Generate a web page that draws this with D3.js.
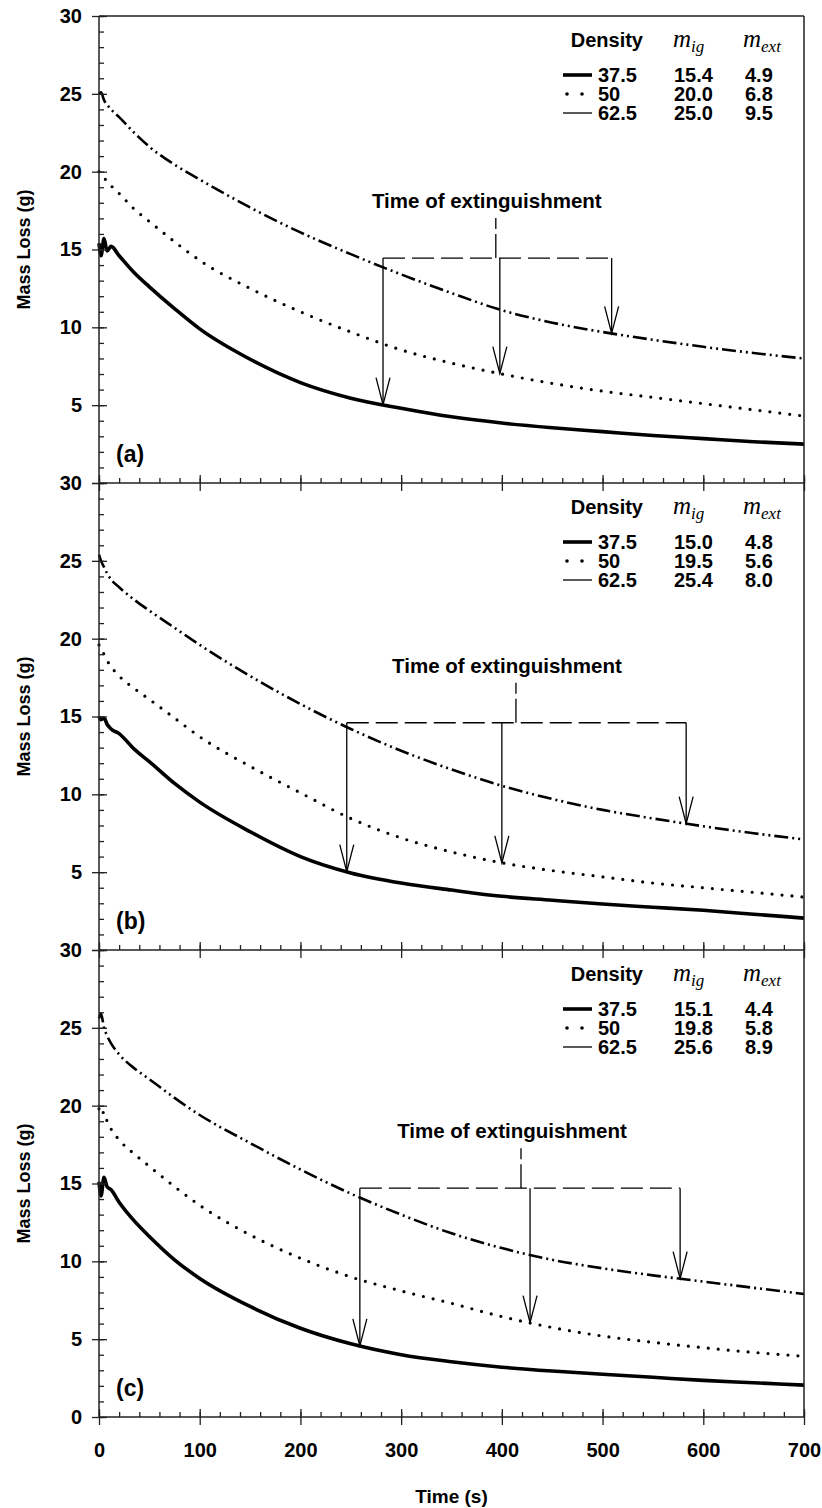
<!DOCTYPE html>
<html>
<head>
<meta charset="utf-8">
<script src="https://cdn.jsdelivr.net/npm/d3@7"></script>
<style>
body { margin: 0; background: #fff; }
text { font-family: "Liberation Sans", Arial, sans-serif; font-weight: bold; fill: #000; }
</style>
</head>
<body>
<div id="chart"></div>
<script>
// messzeitpunkte (s), gilt fuer alle kurven
var times = [0, 2, 5, 8, 12, 20, 35, 50, 75, 100, 150, 200, 250, 300, 350, 400, 450, 500, 550, 600, 650, 700];

// panel (a)
var lossA375 = [15.4, 14.6, 15.7, 14.9, 15.2, 14.6, 13.5, 12.6, 11.2, 9.9, 7.95, 6.45, 5.45, 4.8, 4.25, 3.85, 3.55, 3.3, 3.05, 2.85, 2.65, 2.5];
var lossA50 = [20.0, 19.9, 19.6, 19.4, 19.1, 18.6, 17.6, 16.8, 15.5, 14.3, 12.5, 11.0, 9.7, 8.55, 7.7, 7.0, 6.4, 5.9, 5.5, 5.1, 4.7, 4.3];
var lossA625 = [25.0, 25.1, 24.6, 24.3, 24.0, 23.5, 22.5, 21.6, 20.45, 19.5, 17.7, 16.1, 14.7, 13.4, 12.2, 11.1, 10.3, 9.7, 9.2, 8.75, 8.35, 8.0];
// panel (b)
var lossB375 = [15.0, 14.8, 14.9, 14.5, 14.2, 13.9, 12.9, 12.1, 10.7, 9.5, 7.6, 6.0, 4.95, 4.3, 3.85, 3.45, 3.2, 2.95, 2.75, 2.55, 2.3, 2.05];
var lossB50 = [19.6, 19.3, 19.0, 18.6, 18.2, 17.6, 16.8, 16.1, 14.9, 13.7, 11.8, 10.1, 8.45, 7.2, 6.3, 5.6, 5.1, 4.7, 4.3, 4.0, 3.7, 3.4];
var lossB625 = [25.4, 25.0, 24.6, 24.2, 23.8, 23.3, 22.5, 21.8, 20.7, 19.6, 17.6, 15.8, 14.2, 12.8, 11.6, 10.55, 9.7, 9.0, 8.45, 7.95, 7.5, 7.1];
// panel (c)
var lossC375 = [15.1, 14.2, 15.4, 14.8, 14.6, 13.8, 12.6, 11.6, 10.1, 8.9, 7.1, 5.7, 4.7, 4.0, 3.55, 3.2, 2.95, 2.75, 2.55, 2.35, 2.2, 2.05];
var lossC50 = [19.8, 19.4, 19.6, 19.0, 18.5, 17.8, 16.9, 16.1, 14.8, 13.6, 11.7, 10.2, 9.0, 8.1, 7.3, 6.45, 5.75, 5.2, 4.8, 4.45, 4.15, 3.9];
var lossC625 = [25.6, 25.9, 25.0, 24.5, 24.0, 23.3, 22.4, 21.7, 20.5, 19.4, 17.6, 15.9, 14.35, 13.0, 11.8, 10.85, 10.1, 9.55, 9.1, 8.7, 8.3, 7.9];

var panelLabels = ["(a)", "(b)", "(c)"];
var densities = ["37.5", "50", "62.5"];
var mIg = [["15.4", "20.0", "25.0"], ["15.0", "19.5", "25.4"], ["15.1", "19.8", "25.6"]];
var mExt = [["4.9", "6.8", "9.5"], ["4.8", "5.6", "8.0"], ["4.4", "5.8", "8.9"]];

// zeitpunkt des erloeschens (s) je dichte, hoehe der klammer, position des textes
var extTimes = [[282, 398, 509], [246, 400, 583], [259, 428, 577]];
var bracketLevels = [14.45, 14.6, 14.7];
var stubTimes = [394, 414, 419];

var xTicks = [0, 100, 200, 300, 400, 500, 600, 700];
var yTicks = [0, 5, 10, 15, 20, 25, 30];

var panels = [[lossA375, lossA50, lossA625], [lossB375, lossB50, lossB625], [lossC375, lossC50, lossC625]];

var chartW = 822, chartH = 1508,
    plotLeft = 99, plotRight = 804, plotTop = 16, ph = 467,
    axisColor = "#222";

var svg = d3.select("#chart").append("svg")
    .attr("width", chartW)
    .attr("height", chartH);

var x = d3.scaleLinear().domain([0, 700]).range([plotLeft, plotRight]);

// linienstile: dick, punktiert, strich-punkt-punkt
var styles = [
    { width: 3.6, dash: null, cap: "butt" },
    { width: 3.2, dash: "0,10", cap: "round" },
    { width: 2.6, dash: "14,4,2,4,2,4", cap: "butt" }
];

function valueAt(vals, t) {
    var i = d3.bisectRight(times, t);
    if (i <= 0) return vals[0];
    if (i >= times.length) return vals[vals.length - 1];
    var t0 = times[i - 1], t1 = times[i];
    return vals[i - 1] + (vals[i] - vals[i - 1]) * (t - t0) / (t1 - t0);
}

function drawAxes(g, y, i) {
    var last = i === panels.length - 1;
    var y0 = y.range()[1], yb = y.range()[0];

    // y achse: grosse ticks durch die linie, kleine nach innen
    g.append("g").attr("transform", "translate(" + plotLeft + ",0)")
        .call(d3.axisLeft(y).tickValues(yTicks).tickSize(7).tickPadding(10)
            .tickFormat(function (d) { return (d === 0 && !last) ? "" : d; }))
        .call(function (a) {
            a.select(".domain").remove();
            a.selectAll("text").style("font-size", "20px");
        });
    g.append("g").attr("transform", "translate(" + plotLeft + ",0)")
        .call(d3.axisRight(y).tickValues(yTicks).tickSize(8).tickFormat(""))
        .call(function (a) { a.select(".domain").remove(); });
    g.append("g").attr("transform", "translate(" + plotLeft + ",0)")
        .call(d3.axisRight(y).tickValues(d3.range(0, 31)).tickSize(5).tickFormat(""))
        .call(function (a) { a.select(".domain").remove(); });

    // x achse unten
    g.append("g").attr("transform", "translate(0," + yb + ")")
        .call(d3.axisBottom(x).tickValues(xTicks).tickSize(8).tickPadding(18)
            .tickFormat(last ? d3.format("d") : function () { return ""; }))
        .call(function (a) {
            a.select(".domain").remove();
            a.selectAll("text").style("font-size", "20px");
        });
    g.append("g").attr("transform", "translate(0," + yb + ")")
        .call(d3.axisTop(x).tickValues(xTicks).tickSize(8).tickFormat(""))
        .call(function (a) { a.select(".domain").remove(); });
    g.append("g").attr("transform", "translate(0," + yb + ")")
        .call(d3.axisTop(x).tickValues(d3.range(0, 701, 20)).tickSize(5).tickFormat(""))
        .call(function (a) { a.select(".domain").remove(); });

    g.selectAll(".tick line").attr("stroke", axisColor).attr("stroke-width", 1.3);

    // rahmenlinien
    g.append("line").attr("x1", plotLeft).attr("x2", plotRight).attr("y1", yb).attr("y2", yb)
        .attr("stroke", axisColor).attr("stroke-width", 1.5);
    g.append("line").attr("x1", plotLeft).attr("x2", plotLeft).attr("y1", y0).attr("y2", yb)
        .attr("stroke", axisColor).attr("stroke-width", 1.5);
    g.append("line").attr("x1", plotRight).attr("x2", plotRight).attr("y1", y0).attr("y2", yb)
        .attr("stroke", axisColor).attr("stroke-width", 1.5);
    if (i === 0) {
        g.append("line").attr("x1", plotLeft).attr("x2", plotRight).attr("y1", y0).attr("y2", y0)
            .attr("stroke", axisColor).attr("stroke-width", 1.5);
    }
}

function drawCurves(g, y, series) {
    var line = d3.line()
        .x(function (d, j) { return x(times[j]); })
        .y(function (d) { return y(d); })
        .curve(d3.curveMonotoneX);

    g.selectAll("path.curve")
        .data(series)
        .enter()
        .append("path")
        .attr("class", "curve")
        .attr("d", line)
        .attr("fill", "none")
        .attr("stroke", "#000")
        .attr("stroke-width", function (d, k) { return styles[k].width; })
        .attr("stroke-dasharray", function (d, k) { return styles[k].dash; })
        .attr("stroke-linecap", function (d, k) { return styles[k].cap; })
        .attr("stroke-linejoin", "round");
}

function drawLegend(g, i) {
    var y0 = plotTop + i * ph;
    var hy = y0 + 31;

    g.append("text").attr("x", 643).attr("y", hy).attr("text-anchor", "end")
        .style("font-size", "20px").text("Density");

    [["ig", 673], ["ext", 743]].forEach(function (h) {
        var t = g.append("text").attr("x", h[1]).attr("y", hy);
        t.append("tspan").text("m")
            .style("font-family", "'Liberation Serif', 'Times New Roman', serif")
            .style("font-style", "italic").style("font-weight", "normal").style("font-size", "25px");
        t.append("tspan").text(h[0]).attr("dy", 5)
            .style("font-family", "'Liberation Serif', 'Times New Roman', serif")
            .style("font-style", "italic").style("font-weight", "normal").style("font-size", "17px");
    });

    densities.forEach(function (d, r) {
        var ry = y0 + 66 + r * 19;
        g.append("text").attr("x", 598).attr("y", ry).style("font-size", "20px").text(d);
        g.append("text").attr("x", 674).attr("y", ry).style("font-size", "20px").text(mIg[i][r]);
        g.append("text").attr("x", 745).attr("y", ry).style("font-size", "20px").text(mExt[i][r]);

        var sy = ry - 7;
        if (r === 1) {
            g.selectAll(null).data([567, 582]).enter().append("circle")
                .attr("cx", function (c) { return c; }).attr("cy", sy).attr("r", 1.8).attr("fill", "#000");
        } else {
            g.append("line").attr("x1", 563).attr("x2", 592).attr("y1", sy).attr("y2", sy)
                .attr("stroke", "#000").attr("stroke-width", r === 0 ? 3.6 : 1.3);
        }
    });
}

function drawAnnotation(g, y, series, i) {
    var by = y(bracketLevels[i]);
    var ts = extTimes[i];

    // gestrichelte klammer
    g.append("line").attr("x1", x(ts[0])).attr("x2", x(ts[2])).attr("y1", by).attr("y2", by)
        .attr("stroke", "#000").attr("stroke-width", 1.3).attr("stroke-dasharray", "22,7");
    var sx = x(stubTimes[i]);
    g.append("line").attr("x1", sx).attr("x2", sx).attr("y1", by).attr("y2", by - 40)
        .attr("stroke", "#000").attr("stroke-width", 1.3).attr("stroke-dasharray", "24,5");
    g.append("text").attr("x", sx - 9).attr("y", by - 50).attr("text-anchor", "middle")
        .style("font-size", "20.5px").text("Time of extinguishment");

    // pfeile bis zur kurve
    ts.forEach(function (t, k) {
        var ax = x(t), ty = y(valueAt(series[k], t));
        g.append("line").attr("x1", ax).attr("x2", ax).attr("y1", by).attr("y2", ty)
            .attr("stroke", "#000").attr("stroke-width", 1.3);
        g.append("path")
            .attr("d", "M" + (ax - 7) + "," + (ty - 27) + "L" + ax + "," + ty + "L" + (ax + 7) + "," + (ty - 27))
            .attr("fill", "none").attr("stroke", "#000").attr("stroke-width", 1.3);
    });
}

panels.forEach(function (series, i) {
    var y0 = plotTop + i * ph;
    var y = d3.scaleLinear().domain([0, 30]).range([y0 + ph, y0]);
    var g = svg.append("g").attr("class", "panel");

    drawCurves(g, y, series);
    drawAxes(g, y, i);
    drawLegend(g, i);
    drawAnnotation(g, y, series, i);

    g.append("text").attr("x", 116).attr("y", y0 + ph - 21)
        .style("font-size", "23px").text(panelLabels[i]);

    g.append("text")
        .attr("transform", "translate(24," + (y0 + ph / 2) + ") rotate(-90)")
        .attr("text-anchor", "middle").attr("dy", "0.35em")
        .style("font-size", "18px").text("Mass Loss (g)");
});

svg.append("text").attr("x", (plotLeft + plotRight) / 2).attr("y", 1503)
    .attr("text-anchor", "middle").style("font-size", "19px").text("Time (s)");
</script>
</body>
</html>
